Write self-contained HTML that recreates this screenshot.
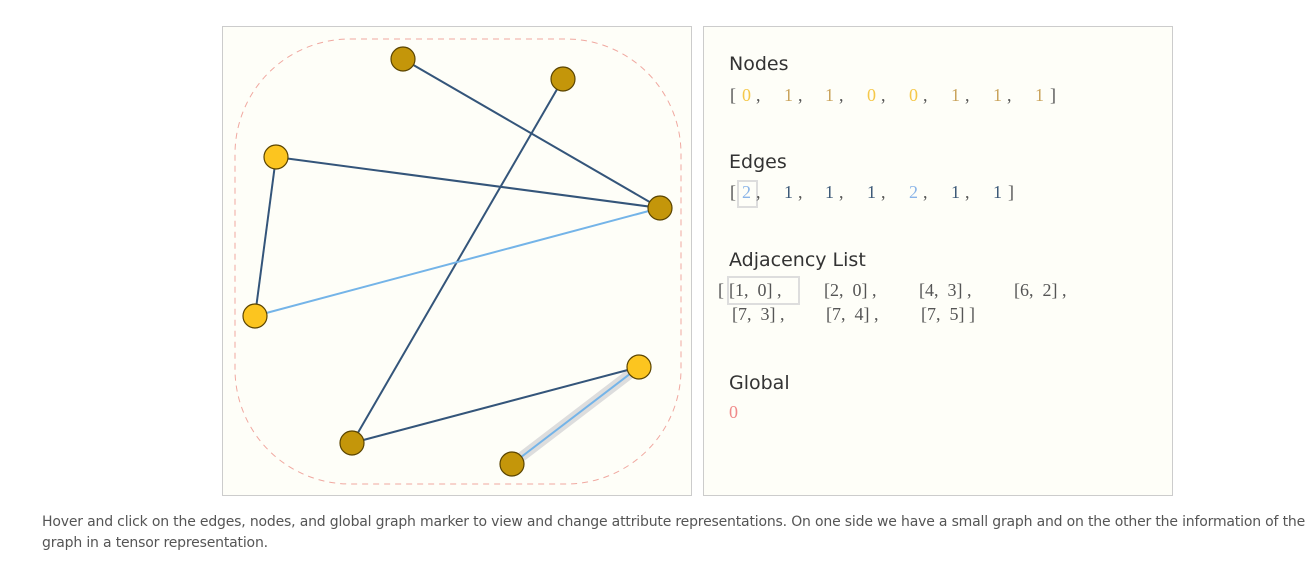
<!DOCTYPE html>
<html><head><meta charset="utf-8"><style>
body{margin:0;width:1307px;height:568px;background:#fff;position:relative;font-family:"Liberation Sans",sans-serif;overflow:hidden}
.box{position:absolute;top:26px;width:468px;height:468px;border:1px solid #ccc;background:#fefef8}
.h{position:absolute;left:25px;font-size:19px;color:#333;font-family:"DejaVu Sans","Liberation Sans",sans-serif}
.m{position:absolute;font-family:"Liberation Serif",serif;font-size:18px;color:#555;white-space:pre;line-height:20px}
.cap{position:absolute;left:42px;top:512px;width:1270px;font-size:14px;line-height:21px;color:#555;font-family:"DejaVu Sans","Liberation Sans",sans-serif;letter-spacing:-0.18px}
.y0{color:#f5c84a}.y1{color:#c9a35c}.b{color:#8ab4e8}.d{color:#3d5a78}
.sel{position:absolute;border:2px solid #ddd}
</style></head><body>
<div class="box" style="left:222px">
<svg width="468" height="468" style="position:absolute;left:0;top:0">
<g transform="translate(-222,-26)">
<rect x="234" y="38" width="446" height="445" rx="115" fill="none" stroke="#f0a8a0" stroke-dasharray="6,5" stroke-width="1"/>
<line x1="511" y1="463" x2="638" y2="366" stroke="#ddd" stroke-width="10" stroke-linecap="round"/>
<g stroke="#34557a" stroke-width="2">
<line x1="402" y1="58" x2="659" y2="207"/>
<line x1="562" y1="78" x2="351" y2="442"/>
<line x1="275" y1="156" x2="659" y2="207"/>
<line x1="275" y1="156" x2="254" y2="315"/>
<line x1="351" y1="442" x2="638" y2="366"/>
</g>
<g stroke="#74b4e8" stroke-width="2">
<line x1="254" y1="315" x2="659" y2="207"/>
<line x1="511" y1="463" x2="638" y2="366"/>
</g>
<g stroke="#5a4400" stroke-width="1.2">
<circle cx="402" cy="58" r="12" fill="#c4960a"/>
<circle cx="562" cy="78" r="12" fill="#c4960a"/>
<circle cx="275" cy="156" r="12" fill="#fcc51f"/>
<circle cx="659" cy="207" r="12" fill="#c4960a"/>
<circle cx="254" cy="315" r="12" fill="#fcc51f"/>
<circle cx="638" cy="366" r="12" fill="#fcc51f"/>
<circle cx="351" cy="442" r="12" fill="#c4960a"/>
<circle cx="511" cy="463" r="12" fill="#c4960a"/>
</g></g></svg>
</div>
<div class="box" style="left:703px">
<div class="h" style="top:26px">Nodes</div>
<div class="m" style="left:26px;top:58px">[</div>
<div class="m y0" style="left:38px;top:58px">0</div><div class="m" style="left:52px;top:58px">,</div>
<div class="m y1" style="left:80px;top:58px">1</div><div class="m" style="left:94px;top:58px">,</div>
<div class="m y1" style="left:121px;top:58px">1</div><div class="m" style="left:135px;top:58px">,</div>
<div class="m y0" style="left:163px;top:58px">0</div><div class="m" style="left:177px;top:58px">,</div>
<div class="m y0" style="left:205px;top:58px">0</div><div class="m" style="left:219px;top:58px">,</div>
<div class="m y1" style="left:247px;top:58px">1</div><div class="m" style="left:261px;top:58px">,</div>
<div class="m y1" style="left:289px;top:58px">1</div><div class="m" style="left:303px;top:58px">,</div>
<div class="m y1" style="left:331px;top:58px">1</div><div class="m" style="left:346px;top:58px">]</div>

<div class="h" style="top:124px">Edges</div>
<div class="sel" style="left:33px;top:153px;width:17px;height:24px"></div>
<div class="m" style="left:26px;top:155px">[</div>
<div class="m b" style="left:38px;top:155px">2</div><div class="m" style="left:52px;top:155px">,</div>
<div class="m d" style="left:80px;top:155px">1</div><div class="m" style="left:94px;top:155px">,</div>
<div class="m d" style="left:121px;top:155px">1</div><div class="m" style="left:135px;top:155px">,</div>
<div class="m d" style="left:163px;top:155px">1</div><div class="m" style="left:177px;top:155px">,</div>
<div class="m b" style="left:205px;top:155px">2</div><div class="m" style="left:219px;top:155px">,</div>
<div class="m d" style="left:247px;top:155px">1</div><div class="m" style="left:261px;top:155px">,</div>
<div class="m d" style="left:289px;top:155px">1</div><div class="m" style="left:304px;top:155px">]</div>

<div class="h" style="top:222px">Adjacency List</div>
<div class="sel" style="left:23px;top:249px;width:69px;height:25px"></div>
<div class="m" style="left:14px;top:253px">[</div>
<div class="m" style="left:25px;top:253px">[1,  0] ,</div>
<div class="m" style="left:120px;top:253px">[2,  0] ,</div>
<div class="m" style="left:215px;top:253px">[4,  3] ,</div>
<div class="m" style="left:310px;top:253px">[6,  2] ,</div>
<div class="m" style="left:28px;top:277px">[7,  3] ,</div>
<div class="m" style="left:122px;top:277px">[7,  4] ,</div>
<div class="m" style="left:217px;top:277px">[7,  5] ]</div>

<div class="h" style="top:345px">Global</div>
<div class="m" style="left:25px;top:375px;color:#f08a8a">0</div>
</div>
<div class="cap">Hover and click on the edges, nodes, and global graph marker to view and change attribute representations. On one side we have a small graph and on the other the information of the graph in a tensor representation.</div>
</body></html>
